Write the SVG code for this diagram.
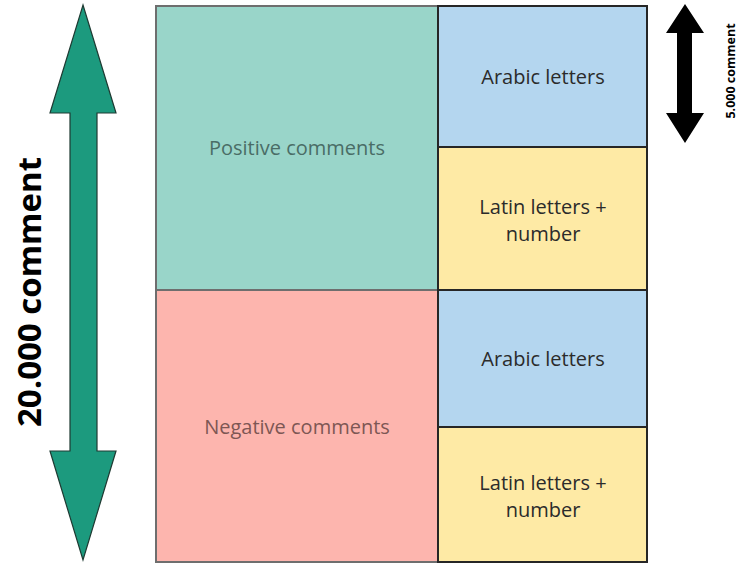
<svg xmlns="http://www.w3.org/2000/svg" width="739" height="564" viewBox="0 0 739 564">
<style>
.lbl{font-family:"Open Sans","Liberation Sans",sans-serif;font-size:20px;text-anchor:middle}
.big{stroke:#6e6e6e;stroke-width:2}
.small{stroke:#262626;stroke-width:2}
.dark{fill:#2b2b2b}
.bold{font-family:"Open Sans","Liberation Sans",sans-serif;font-weight:bold;text-anchor:middle;fill:#000}
</style>
<rect width="739" height="564" fill="#ffffff"/>
<g id="positive">
<rect class="big" x="156" y="6" width="282" height="284" fill="#99d5c9"/>
<text class="lbl" x="297" y="155" fill="#4a6d66">Positive comments</text>
</g>
<g id="negative">
<rect class="big" x="156" y="290" width="282" height="272" fill="#fdb5ae"/>
<text class="lbl" x="297" y="434" fill="#7d5754">Negative comments</text>
</g>
<g id="arabic1">
<rect class="small" x="438" y="6" width="209" height="141" fill="#b4d6ef"/>
<text class="lbl dark" x="543" y="84">Arabic letters</text>
</g>
<g id="latin1">
<rect class="small" x="438" y="147" width="209" height="143" fill="#feeaa5"/>
<text class="lbl dark" x="543" y="214">Latin letters +</text>
<text class="lbl dark" x="543" y="241">number</text>
</g>
<g id="arabic2">
<rect class="small" x="438" y="290" width="209" height="137" fill="#b4d6ef"/>
<text class="lbl dark" x="543" y="366">Arabic letters</text>
</g>
<g id="latin2">
<rect class="small" x="438" y="427" width="209" height="135" fill="#feeaa5"/>
<text class="lbl dark" x="543" y="490">Latin letters +</text>
<text class="lbl dark" x="543" y="517">number</text>
</g>
<g id="connectors">
<path d="M83,5 L116,113 L97,113 L97,451 L116,451 L83,560 L50,451 L70,451 L70,113 L50,113 Z" fill="#1c9a7e" stroke="#1e3a32" stroke-width="1.2" stroke-linejoin="miter"/>
<path d="M685,4 L704,33 L692,33 L692,113 L704,113 L685,143 L666,113 L677,113 L677,33 L666,33 Z" fill="#000"/>
</g>
<g id="labels">
<text class="bold" transform="translate(41,292) rotate(-90)" font-size="33">20.000 comment</text>
<text class="bold" transform="translate(735,71) rotate(-90)" font-size="12.5">5.000 comment</text>
</g>
</svg>
